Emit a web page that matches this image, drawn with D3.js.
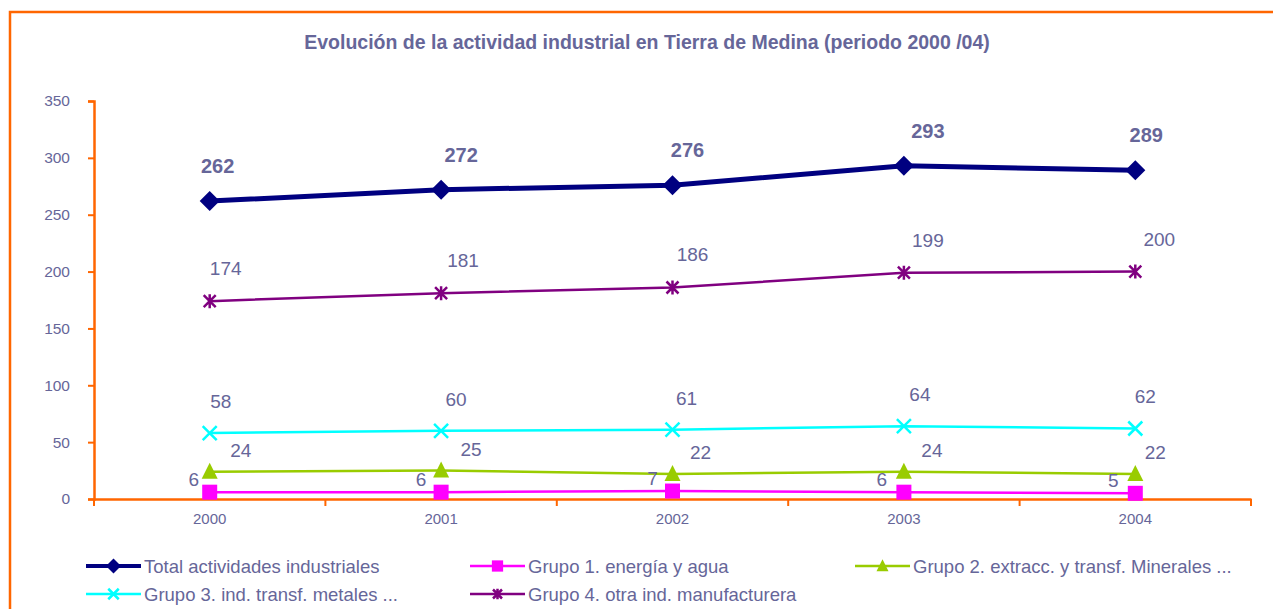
<!DOCTYPE html>
<html><head><meta charset="utf-8">
<script src="https://cdn.jsdelivr.net/npm/d3@7"></script>
<style>body{margin:0;background:#fff}svg{display:block;font-family:"Liberation Sans",Arial,sans-serif}</style>
</head><body><svg id="c" width="1273" height="609"></svg>
<script>
const years = ["2000","2001","2002","2003","2004"];
const yTicks = [0,50,100,150,200,250,300,350];
const total = [262,272,276,293,289];
const grupo1 = [6,6,7,6,5];
const grupo2 = [24,25,22,24,22];
const grupo3 = [58,60,61,64,62];
const grupo4 = [174,181,186,199,200];
const names = ["Total actividades industriales","Grupo 1. energía y agua","Grupo 2. extracc. y transf. Minerales ...","Grupo 3. ind. transf. metales ...","Grupo 4. otra ind. manufacturera"];
const title = "Evolución de la actividad industrial en Tierra de Medina (periodo 2000 /04)";

const series = [
  {name:names[0], values:total, color:"#000080", w:5, marker:"diamond", bold:true, dx:[8,20,15,24,11], dy:-28},
  {name:names[4], values:grupo4, color:"#800080", w:2.5, marker:"star", dx:[16,22,20,24,24], dy:-26},
  {name:names[3], values:grupo3, color:"#00FFFF", w:2.5, marker:"x", dx:[11,15,14,16,10], dy:-25},
  {name:names[2], values:grupo2, color:"#99CC00", w:2.5, marker:"triangle", dx:[31,30,28,28,20], dy:-15},
  {name:names[1], values:grupo1, color:"#FF00FF", w:2.5, marker:"square", dx:[-16,-20,-20,-22,-22], dy:-6}
];
const txt = "#666699", orange = "#FF6600";
const svg = d3.select("#c");
svg.append("rect").attr("x",10).attr("y",12).attr("width",1400).attr("height",800)
  .attr("fill","none").attr("stroke",orange).attr("stroke-width",2.5);
svg.append("text").attr("x",647).attr("y",49).attr("text-anchor","middle")
  .attr("font-size",19.5).attr("font-weight","bold").attr("fill",txt).text(title);

const x = d3.scaleBand().domain(years).range([94,1251]);
const y = d3.scaleLinear().domain([0,350]).range([499,101]);

// y axis
const ya = svg.append("g").attr("transform","translate(94,0)")
  .call(d3.axisLeft(y).tickValues(yTicks).tickSize(6).tickPadding(18));
ya.select(".domain").attr("stroke",orange).attr("stroke-width",2.5);
ya.selectAll(".tick line").attr("stroke",orange).attr("stroke-width",2);
ya.selectAll(".tick text").attr("fill",txt).attr("font-size",15.5).attr("font-family","Liberation Sans, Arial, sans-serif");
// x axis
const xa = svg.append("g").attr("transform","translate(0,499)")
  .call(d3.axisBottom(x).tickSize(0).tickPadding(14));
xa.select(".domain").attr("stroke",orange).attr("stroke-width",2.5);
xa.selectAll(".tick text").attr("fill",txt).attr("font-size",15).attr("font-family","Liberation Sans, Arial, sans-serif");
const bounds = years.map(d=>x(d)).concat([x.range()[1]]);
svg.append("g").selectAll("line").data(bounds).join("line")
  .attr("x1",d=>d).attr("x2",d=>d).attr("y1",499).attr("y2",506)
  .attr("stroke",orange).attr("stroke-width",2);

const cx = d => x(d)+x.bandwidth()/2;
function marker(g, type, color, s){
  if(type==="diamond") g.append("path").attr("d",`M0,${-10*s}L${10*s},0L0,${10*s}L${-10*s},0Z`).attr("fill",color);
  else if(type==="square") g.append("rect").attr("x",-7.5*s).attr("y",-7.5*s).attr("width",15*s).attr("height",15*s).attr("fill",color);
  else if(type==="triangle") g.append("path").attr("d",`M0,${-9*s}L${8*s},${7*s}L${-8*s},${7*s}Z`).attr("fill",color);
  else if(type==="x") g.append("path").attr("d",`M${-7*s},${-7*s}L${7*s},${7*s}M${-7*s},${7*s}L${7*s},${-7*s}`).attr("stroke",color).attr("stroke-width",2.5);
  else if(type==="star") g.append("path").attr("d",`M${-6*s},${-6*s}L${6*s},${6*s}M${-6*s},${6*s}L${6*s},${-6*s}M0,${-7*s}L0,${7*s}`).attr("stroke",color).attr("stroke-width",2.5);
}
const line = d3.line().x(d=>cx(d.year)).y(d=>y(d.v));
series.forEach(s=>{
  const pts = years.map((yr,i)=>({year:yr,v:s.values[i],i}));
  svg.append("path").datum(pts).attr("d",line).attr("fill","none")
    .attr("stroke",s.color).attr("stroke-width",s.w);
  pts.forEach(p=>{
    marker(svg.append("g").attr("transform",`translate(${cx(p.year)},${y(p.v)})`), s.marker, s.color, 1);
  });
});
// labels on top
series.forEach(s=>{
  years.forEach((yr,i)=>{
    svg.append("text").attr("x",cx(yr)+s.dx[i]).attr("y",y(s.values[i])+s.dy)
      .attr("text-anchor","middle").attr("fill",txt).attr("font-size",s.bold?20:19)
      .attr("font-weight",s.bold?"bold":"normal").text(s.values[i]);
  });
});
// legend
const legOrder = [series[0],series[4],series[3],series[2],series[1]];
const legPos = [[86,566],[470,566],[855,566],[86,594],[470,594]];
legOrder.forEach((s,i)=>{
  const [lx,ly] = legPos[i];
  svg.append("line").attr("x1",lx).attr("x2",lx+55).attr("y1",ly).attr("y2",ly)
    .attr("stroke",s.color).attr("stroke-width",s.w===5?4:2.5);
  marker(svg.append("g").attr("transform",`translate(${lx+27.5},${ly})`), s.marker, s.color, 0.75);
  svg.append("text").attr("x",lx+58).attr("y",ly+6.5).attr("fill",txt).attr("font-size",18.5).text(s.name);
});
</script></body></html>
